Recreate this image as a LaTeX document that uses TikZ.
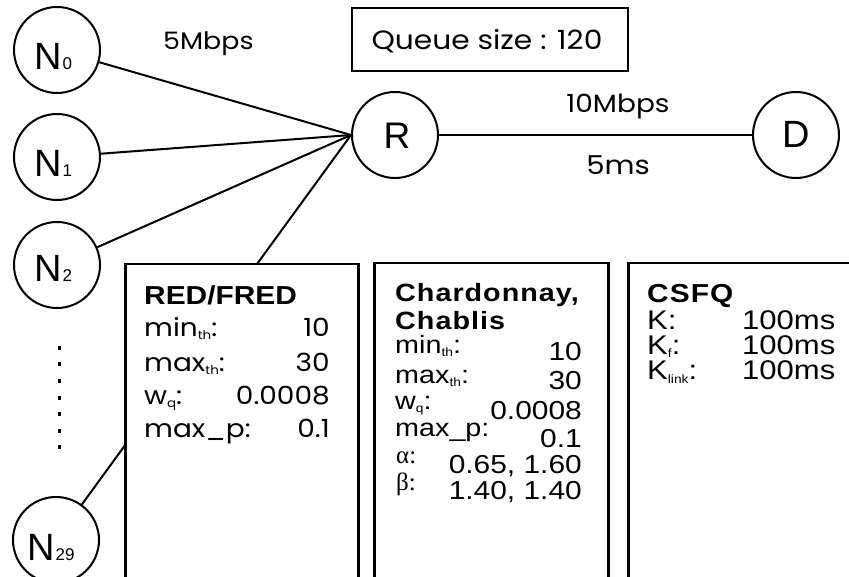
\documentclass[tikz,border=0pt]{standalone}
\usepackage{fontspec}
\setmainfont{Liberation Sans}
\newfontfamily\gothic[FakeStretch=1.12]{Poppins}
\newfontfamily\serifgr{Liberation Serif}
\newfontfamily\arialw[FakeStretch=1.15]{Liberation Sans}
\newfontfamily\arialsp[FakeStretch=1.15,LetterSpace=4]{Liberation Sans}
\newcommand\fsz[1]{\fontsize{#1pt}{#1pt}\selectfont}
\newcommand\subt[2]{\raisebox{-3pt}{\fsz{#1}#2}}
\tikzset{
  nd/.style={circle,draw,line width=2pt,minimum size=86pt,inner sep=0pt},
  lnk/.style={line width=2pt},
  box/.style={draw,line width=2.5pt,fill=white,anchor=north west,inner sep=0pt},
  txt/.style={inner sep=0pt,anchor=base west},
  txtr/.style={inner sep=0pt,anchor=base east},
  txtc/.style={inner sep=0pt,anchor=base},
}
\begin{document}
\begin{tikzpicture}[x=1pt,y=-1pt]
\useasboundingbox (0,0) rectangle (849,577);
\clip (0,0) rectangle (849,577);
% nodes
\node[nd] (N0) at (57,50) {};
\node[nd] (N1) at (57,157) {};
\node[nd] (N2) at (57,265) {};
\node[nd] (N29) at (56,540) {};
\node[nd] (R) at (395,135) {};
\node[nd] (D) at (796,135) {};
\node[txt] (n0t) at (34,70) {\fsz{38}N\hspace{1pt}\fsz{17}0};
\node[txt] (n1t) at (34,177) {\fsz{38}N\hspace{1pt}\fsz{17}1};
\node[txt] (n2t) at (34,282) {\fsz{38}N\hspace{1pt}\fsz{17}2};
\node[txt] (n29t) at (27,560) {\fsz{38}N\hspace{1pt}\fsz{17}29};
\node[txtc] (rt) at (397,149) {\fsz{37}R};
\node[txtc] (dt) at (796,148) {\fsz{38}D};
% links
\draw[lnk] (N0) -- (R.west);
\draw[lnk] (N1) -- (R.west);
\draw[lnk] (N2) -- (R.west);
\draw[lnk] (N29) -- (R.west);
\draw[lnk] (R) -- (D);
% vertical dots
\foreach \yy in {348,364.5,381,397.5,414,430.5,447}
  \fill (58,\yy-2) rectangle (60.5,\yy+2);
% labels
\node[txt] (l5m) at (163,50) {\gothic\fsz{24}5Mbps};
\node[draw,line width=2pt,minimum width=276pt,minimum height=63pt,inner sep=0pt] (q) at (490,39.5) {};
\node[txtc] (qt) at (487,50) {\gothic\fsz{26.5}Queue size : 120};
\node[txtc] (l10) at (618,113) {\gothic\fsz{25}10Mbps};
\node[txtc] (l5ms) at (618,175) {\gothic\fsz{26}5ms};
% boxes
\node[box,minimum width=233pt,minimum height=360pt] (red) at (124,263) {};
\node[box,minimum width=234pt,minimum height=360pt] (chd) at (373,262) {};
\node[box,minimum width=300pt,minimum height=360pt] (csfq) at (627,262) {};
% RED/FRED
\node[txt] (r0) at (144,305) {\arialw\bfseries\fsz{26}RED/FRED};
\node[txt] (r1) at (144,337) {\gothic\fsz{25}min\subt{12}{th}:};
\node[txt] (r2) at (144,371) {\gothic\fsz{25}max\subt{12}{th}:};
\node[txt] (r3) at (144,404) {\gothic\fsz{25}w\subt{12}{q}:};
\node[txt] (r4) at (144,437) {\gothic\fsz{25}max\_p:};
\node[txtr] (r1v) at (330,337) {\gothic\fsz{25}10};
\node[txtr] (r2v) at (330,371) {\gothic\fsz{25}30};
\node[txtr] (r3v) at (330,404) {\gothic\fsz{25}0.0008};
\node[txtr] (r4v) at (330,437) {\gothic\fsz{25}0.1};
% Chardonnay
\node[txt] (c0) at (395,302) {\arialsp\bfseries\fsz{25}Chardonnay,};
\node[txt] (c0b) at (395,330) {\arialsp\bfseries\fsz{25}Chablis};
\node[txt] (c1) at (395,354) {\arialw\fsz{25}min\subt{12}{th}:};
\node[txt] (c2) at (395,383) {\arialw\fsz{25}max\subt{12}{th}:};
\node[txt] (c3) at (395,409) {\arialw\fsz{25}w\subt{12}{q}:};
\node[txt] (c4) at (395,436) {\arialw\fsz{25}max\_p:};
\node[txt] (c5) at (396,463) {\serifgr\fsz{25}α:};
\node[txt] (c6) at (396,490) {\serifgr\fsz{25}β:};
\node[txtr] (c1v) at (582,361) {\arialw\fsz{26}10};
\node[txtr] (c2v) at (582,389) {\arialw\fsz{26}30};
\node[txtr] (c3v) at (582,419) {\arialw\fsz{26}0.0008};
\node[txtr] (c4v) at (582,447) {\arialw\fsz{26}0.1};
\node[txtr] (c5v) at (582,473) {\arialw\fsz{26}0.65, 1.60};
\node[txtr] (c6v) at (582,499) {\arialw\fsz{26}1.40, 1.40};
% CSFQ
\node[txt] (s0) at (647,303) {\arialsp\bfseries\fsz{26}CSFQ};
\node[txt] (s1) at (647,330) {\arialw\fsz{27}K:};
\node[txt] (s2) at (647,355) {\arialw\fsz{27}K\subt{12}{f}:};
\node[txt] (s3) at (647,380) {\arialw\fsz{27}K\subt{12}{link}:};
\node[txt] (s1v) at (742,330) {\arialw\fsz{27}100ms};
\node[txt] (s2v) at (742,355) {\arialw\fsz{27}100ms};
\node[txt] (s3v) at (742,380) {\arialw\fsz{27}100ms};
\end{tikzpicture}
\end{document}
